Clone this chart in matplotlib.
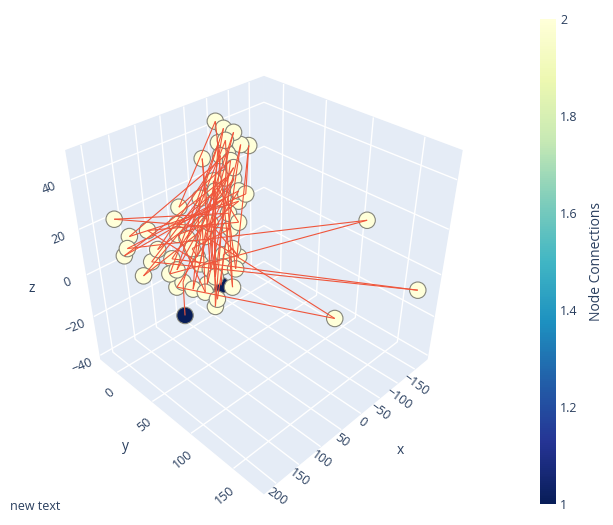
import numpy as np
import matplotlib.pyplot as plt
from matplotlib import cm, colors
from mpl_toolkits.mplot3d.art3d import Line3DCollection

node_x = [144.3, 124.4, -33.8, 117.5, 48.6, 147.1, -141.2, 121.7, -10.2, 123.3,
          -24.8, 92.4, 130.9, 20.4, 21.9, 103.2, -12.6, 156.0, 6.2, 165.9,
          5.9, 174.6, 22.4, 132.0, -3.1, 84.1, 19.9, 96.2, -33.9, 97.7,
          -9.6, 134.2, -129.3, 166.4, -0.5, 134.8, -26.5, 68.4, -2.8, 90.7,
          -19.1, 70.6, -20.2, 79.2, -11.4, 83.7, 26.3, 93.0, -6.7, -42.6,
          54.9, 26.0, 162.0, 33.8, 91.6, 91.2, 63.8, 105.5, 98.5, 53.8,
          43.3, 44.9, 59.5, 68.7, 50.1]
node_y = [50.4, 38.1, 17.2, 46.3, 19.9, 13.1, 177.0, 23.8, 29.1, 30.5,
          10.0, 41.9, 0.2, 50.3, 21.8, 65.0, 20.8, -8.3, 43.2, 13.1,
          27.8, -4.8, 33.7, 12.5, 17.4, 49.5, 7.8, 63.8, 25.4, 52.8,
          11.8, 27.7, 124.2, -5.4, 39.8, 36.2, 138.3, 35.7, 32.8, 25.8,
          15.2, 68.5, 2.9, 10.6, 25.0, 55.1, 26.3, 15.2, 45.0, 30.4,
          64.2, 41.4, -22.9, 47.7, 32.2, 37.8, 29.9, 54.4, 19.2, 34.2,
          61.9, 55.6, 52.4, 55.9, 42.3]
node_z = [-10.7, -0.7, 44.3, -2.8, 24.5, 5.4, -3.1, 6.3, 33.7, 3.0,
          45.5, 4.8, 14.8, 17.3, 29.7, -8.0, 37.9, 13.0, 23.6, 1.2,
          30.6, 7.2, 24.2, 9.1, 37.3, 3.3, 36.4, -5.8, 40.6, -1.3,
          41.2, 1.8, 17.9, 9.4, 26.7, -2.2, -11.6, 13.0, 30.3, 12.4,
          41.9, -2.2, 47.6, 21.8, 35.8, 0.9, 26.7, 16.6, 25.8, 40.3,
          3.3, 20.0, 18.2, 15.4, 9.4, 6.9, 16.6, -3.7, 13.6, 17.0,
          6.9, 9.4, 7.5, 3.9, -10.0]

edges = [(0, 1), (1, 2), (2, 3), (3, 4), (4, 5), (5, 6), (6, 7), (7, 8),
         (8, 9), (9, 10), (10, 11), (11, 12), (12, 13), (13, 14), (14, 15),
         (15, 16), (16, 17), (17, 18), (18, 19), (19, 20), (20, 21), (21, 22),
         (22, 23), (23, 24), (24, 25), (25, 26), (26, 27), (27, 28), (28, 29),
         (29, 30), (30, 31), (31, 32), (32, 33), (33, 34), (34, 35), (35, 36),
         (36, 37), (37, 38), (38, 39), (39, 40), (40, 41), (41, 42), (42, 43),
         (43, 44), (44, 45), (45, 46), (46, 47), (47, 48), (48, 49), (49, 50),
         (50, 51), (51, 52), (52, 53), (53, 54), (54, 55), (55, 56), (56, 57),
         (57, 58), (58, 59), (59, 60), (60, 61), (61, 62), (62, 63), (63, 64)]

x_ticks = [-150, -100, -50, 0, 50, 100, 150, 200]
y_ticks = [0, 50, 100, 150]
z_ticks = [-40, -20, 0, 20, 40]
cbar_ticks = [1, 1.2, 1.4, 1.6, 1.8, 2]

# connections per node
n_nodes = len(node_x)
degree = np.zeros(n_nodes)
for a, b in edges:
    degree[a] += 1
    degree[b] += 1

plt.rcParams['font.family'] = ['Open Sans', 'DejaVu Sans']
plt.rcParams['grid.color'] = 'white'
plt.rcParams['grid.linewidth'] = 1.0
txt_col = '#2a3f5f'
bg = '#E5ECF6'

fig = plt.figure(figsize=(6.13, 5.25), dpi=100)
ax = fig.add_axes([0.419 - 0.45, 0.482 - 0.5, 0.9, 1.0], projection='3d',
                  computed_zorder=False)
ax.set_proj_type('persp', focal_length=0.2655)
ax.view_init(elev=35.264, azim=45)
ax.set_box_aspect((1, 1, 1), zoom=0.81)
ax.set_xlim(-187, 226)
ax.set_ylim(-24.5, 183)
ax.set_zlim(-42, 51)

for axis in (ax.xaxis, ax.yaxis, ax.zaxis):
    axis.set_pane_color(bg)
    axis.pane.set_edgecolor(bg)
    axis.line.set_color((1, 1, 1, 0))
    axis._axinfo['tick']['inward_factor'] = 0
    axis._axinfo['tick']['outward_factor'] = 0

ax.set_xticks(x_ticks)
ax.set_yticks(y_ticks)
ax.set_zticks(z_ticks)
ax.tick_params(colors=txt_col, labelsize=9)
ax.tick_params(axis='x', labelrotation=-36, pad=-7)
ax.tick_params(axis='y', labelrotation=40, pad=1)
ax.tick_params(axis='z', labelrotation=22, pad=3)

# axis titles sit where plotly put them
fig.text(400 / 613, 1 - 450 / 525, 'x', fontsize=10, color=txt_col,
         ha='center', va='center')
fig.text(125 / 613, 1 - 447 / 525, 'y', fontsize=10, color=txt_col,
         ha='center', va='center')
fig.text(32 / 613, 1 - 288 / 525, 'z', fontsize=10, color=txt_col,
         ha='center', va='center')

segs = [[(node_x[a], node_y[a], node_z[a]), (node_x[b], node_y[b], node_z[b])]
        for a, b in edges]

norm = colors.Normalize(vmin=1, vmax=2)
cmap = plt.get_cmap('YlGnBu_r')
ax.add_collection3d(Line3DCollection(segs, colors='#ef553b', linewidths=0.8))
ax.scatter(node_x, node_y, node_z, c=degree, cmap=cmap, norm=norm, s=140,
           edgecolors='#85857a', linewidths=0.8, depthshade=False, alpha=1)

cax = fig.add_axes([540 / 613, 1 - 504 / 525, 16 / 613, 485 / 525])
cb = fig.colorbar(cm.ScalarMappable(norm=norm, cmap=cmap), cax=cax)
cb.outline.set_visible(False)
cb.set_ticks(cbar_ticks)
cb.set_ticklabels(['1', '1.2', '1.4', '1.6', '1.8', '2'])
cax.tick_params(length=0, labelsize=9, colors=txt_col, pad=3)
cb.set_label('Node Connections', fontsize=10, color=txt_col, labelpad=8)

fig.text(10 / 613, 1 - 507 / 525, 'new text', fontsize=9, color=txt_col,
         va='center')

fig.savefig('out.png', dpi=100)
